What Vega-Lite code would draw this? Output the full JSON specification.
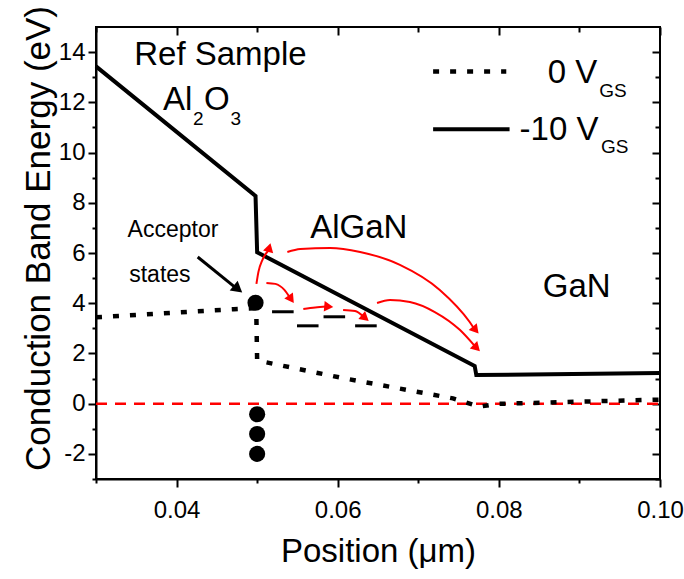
{
  "$schema": "https://vega.github.io/schema/vega-lite/v6.json",
  "width": 564,
  "height": 452,
  "autosize": {"type": "none"},
  "padding": {"left": 96, "top": 27, "right": 24, "bottom": 100},
  "background": "white",
  "config": {
    "view": {"stroke": "black", "strokeWidth": 2},
    "axis": {
      "grid": false,
      "ticks": true,
      "domainColor": "black",
      "domainWidth": 2,
      "tickColor": "black",
      "tickWidth": 2,
      "labelFont": "Liberation Sans",
      "labelFontSize": 24,
      "labelColor": "black",
      "titleFont": "Liberation Sans",
      "titleFontSize": 33,
      "titleFontWeight": "normal",
      "titleColor": "black"
    },
    "text": {"font": "Liberation Sans", "color": "black"}
  },
  "resolve": {"axis": {"x": "independent", "y": "independent"}},
  "layer": [
    {
      "data": {"values": [{"x": 0.03, "y": 0}, {"x": 0.10, "y": 0}]},
      "mark": {"type": "line", "color": "#ff0000", "strokeWidth": 2.5, "strokeDash": [11, 8]},
      "encoding": {
        "x": {"field": "x", "type": "quantitative", "scale": {"domain": [0.03, 0.10], "nice": false, "zero": false},
          "axis": {"orient": "bottom", "values": [0.04, 0.06, 0.08, 0.10], "format": ".2f",
            "tickSize": 8,
            "labelPadding": 11, "title": "Position (μm)", "titlePadding": 13, "labelFlush": false, "labelOverlap": false}},
        "y": {"field": "y", "type": "quantitative", "scale": {"domain": [-3, 15], "nice": false, "zero": false},
          "axis": {"orient": "left", "values": [-2, 0, 2, 4, 6, 8, 10, 12, 14],
            "labelExpr": "'' + datum.value",
            "tickSize": 8,
            "labelPadding": 3, "title": "Conduction Band Energy (eV)", "titleFontSize": 35, "titleY": 211, "titlePadding": 2, "labelFlush": false, "labelOverlap": false}}
      }
    },
    {
      "data": {"values": [
        {"s": "a", "i": 1, "x": 0.030, "y": 3.44},
        {"s": "a", "i": 2, "x": 0.0471, "y": 3.76},
        {"s": "a", "i": 3, "x": 0.0497, "y": 3.80},
        {"s": "a", "i": 4, "x": 0.0499, "y": 3.55},
        {"s": "a", "i": 5, "x": 0.0500, "y": 1.72},
        {"s": "a", "i": 6, "x": 0.0603, "y": 1.04},
        {"s": "a", "i": 7, "x": 0.0743, "y": 0.21},
        {"s": "a", "i": 8, "x": 0.0776, "y": -0.12},
        {"s": "a", "i": 9, "x": 0.0797, "y": -0.01},
        {"s": "a", "i": 10, "x": 0.090, "y": 0.08},
        {"s": "a", "i": 11, "x": 0.100, "y": 0.16},
        {"s": "leg", "i": 1, "x": 0.07184, "y": 13.23},
        {"s": "leg", "i": 2, "x": 0.08092, "y": 13.23}
      ]},
      "mark": {"type": "line", "color": "black", "strokeWidth": 4.5, "strokeDash": [6, 11], "strokeCap": "butt"},
      "encoding": {
        "x": {"field": "x", "type": "quantitative",
          "axis": {"orient": "bottom", "values": [0.03, 0.05, 0.07, 0.09], "labels": false, "domain": false, "title": null, "tickSize": 4}},
        "y": {"field": "y", "type": "quantitative",
          "axis": {"orient": "left", "values": [-3, -1, 1, 3, 5, 7, 9, 11, 13], "labels": false, "domain": false, "title": null, "tickSize": 4}},
        "detail": {"field": "s"},
        "order": {"field": "i", "type": "quantitative"}
      }
    },
    {
      "data": {"values": [
        {"s": "a", "i": 1, "x": 0.030, "y": 13.43},
        {"s": "a", "i": 2, "x": 0.0498, "y": 8.27},
        {"s": "a", "i": 3, "x": 0.0500, "y": 6.03},
        {"s": "a", "i": 4, "x": 0.0770, "y": 1.50},
        {"s": "a", "i": 5, "x": 0.0772, "y": 1.14},
        {"s": "a", "i": 6, "x": 0.100, "y": 1.22},
        {"s": "leg", "i": 1, "x": 0.07184, "y": 10.93},
        {"s": "leg", "i": 2, "x": 0.08133, "y": 10.93}
      ]},
      "mark": {"type": "line", "color": "black", "strokeWidth": 4, "strokeJoin": "miter"},
      "encoding": {
        "x": {"field": "x", "type": "quantitative",
          "axis": {"orient": "top", "values": [0.04, 0.06, 0.08, 0.10], "labels": false, "domain": false, "title": null, "tickSize": 8, "offset": -8}},
        "y": {"field": "y", "type": "quantitative",
          "axis": {"orient": "right", "values": [-2, 0, 2, 4, 6, 8, 10, 12, 14], "labels": false, "domain": false, "title": null, "tickSize": 8, "offset": -8}},
        "detail": {"field": "s"},
        "order": {"field": "i", "type": "quantitative"}
      }
    },
    {
      "data": {"values": [
        {"x": 0.05185, "x2": 0.05453, "y": 3.66},
        {"x": 0.05495, "x2": 0.05762, "y": 3.10},
        {"x": 0.05824, "x2": 0.06092, "y": 3.46},
        {"x": 0.06216, "x2": 0.06484, "y": 3.10}
      ]},
      "mark": {"type": "rule", "color": "black", "strokeWidth": 3},
      "encoding": {
        "x": {"field": "x", "type": "quantitative", "axis": null},
        "x2": {"field": "x2"},
        "y": {"field": "y", "type": "quantitative", "axis": null}
      }
    },
    {
      "data": {"values": [
        {"x": 0.0498, "y": 4.02},
        {"x": 0.0500, "y": -0.42},
        {"x": 0.0500, "y": -1.21},
        {"x": 0.0500, "y": -2.00}
      ]},
      "mark": {"type": "point", "shape": "circle", "filled": true, "color": "black", "opacity": 1, "size": 260},
      "encoding": {
        "x": {"field": "x", "type": "quantitative",
          "axis": {"orient": "top", "values": [0.03, 0.05, 0.07, 0.09], "labels": false, "domain": false, "title": null, "tickSize": 5, "offset": -5}},
        "y": {"field": "y", "type": "quantitative",
          "axis": {"orient": "right", "values": [-3, -1, 1, 3, 5, 7, 9, 11, 13], "labels": false, "domain": false, "title": null, "tickSize": 5, "offset": -5}}
      }
    },
    {
      "data": {"values": [
        {"a": "A", "i": 1, "x": 0.04991, "y": 4.77},
        {"a": "A", "i": 2, "x": 0.05016, "y": 5.25},
        {"a": "A", "i": 3, "x": 0.05066, "y": 5.73},
        {"a": "A", "i": 4, "x": 0.05140, "y": 6.10},
        {"a": "B", "i": 1, "x": 0.05375, "y": 6.04},
        {"a": "B", "i": 2, "x": 0.05536, "y": 6.16},
        {"a": "B", "i": 3, "x": 0.05907, "y": 6.20},
        {"a": "B", "i": 4, "x": 0.06278, "y": 6.04},
        {"a": "B", "i": 5, "x": 0.06772, "y": 5.53},
        {"a": "B", "i": 6, "x": 0.07267, "y": 4.53},
        {"a": "B", "i": 7, "x": 0.07638, "y": 3.25},
        {"a": "B", "i": 8, "x": 0.07690, "y": 3.00},
        {"a": "C", "i": 1, "x": 0.05115, "y": 4.81},
        {"a": "C", "i": 2, "x": 0.05226, "y": 4.77},
        {"a": "C", "i": 3, "x": 0.05338, "y": 4.53},
        {"a": "C", "i": 4, "x": 0.05405, "y": 4.23},
        {"a": "D", "i": 1, "x": 0.05573, "y": 3.77},
        {"a": "D", "i": 2, "x": 0.05721, "y": 3.83},
        {"a": "D", "i": 3, "x": 0.05860, "y": 3.87},
        {"a": "E", "i": 1, "x": 0.06067, "y": 3.73},
        {"a": "E", "i": 2, "x": 0.06215, "y": 3.69},
        {"a": "E", "i": 3, "x": 0.06320, "y": 3.47},
        {"a": "F", "i": 1, "x": 0.06488, "y": 4.01},
        {"a": "F", "i": 2, "x": 0.06649, "y": 4.13},
        {"a": "F", "i": 3, "x": 0.06896, "y": 4.05},
        {"a": "F", "i": 4, "x": 0.07205, "y": 3.65},
        {"a": "F", "i": 5, "x": 0.07515, "y": 2.94},
        {"a": "F", "i": 6, "x": 0.07705, "y": 2.28}
      ]},
      "mark": {"type": "line", "color": "#ff0000", "strokeWidth": 2, "interpolate": "monotone"},
      "encoding": {
        "x": {"field": "x", "type": "quantitative", "axis": null},
        "y": {"field": "y", "type": "quantitative", "axis": null},
        "detail": {"field": "a"},
        "order": {"field": "i", "type": "quantitative"}
      }
    },
    {
      "data": {"values": [
        {"x": 0.05146, "y": 6.16, "angle": 15},
        {"x": 0.07700, "y": 2.98, "angle": 140},
        {"x": 0.05412, "y": 4.21, "angle": 145},
        {"x": 0.05870, "y": 3.87, "angle": 95},
        {"x": 0.06327, "y": 3.45, "angle": 130},
        {"x": 0.07712, "y": 2.26, "angle": 135}
      ]},
      "mark": {"type": "point", "shape": "triangle", "filled": true, "color": "#ff0000", "opacity": 1, "size": 110},
      "encoding": {
        "x": {"field": "x", "type": "quantitative", "axis": null},
        "y": {"field": "y", "type": "quantitative", "axis": null},
        "angle": {"field": "angle", "type": "quantitative", "scale": null}
      }
    },
    {
      "data": {"values": [
        {"i": 1, "x": 0.04262, "y": 5.84},
        {"i": 2, "x": 0.04720, "y": 4.65}
      ]},
      "mark": {"type": "line", "color": "black", "strokeWidth": 3},
      "encoding": {
        "x": {"field": "x", "type": "quantitative", "axis": null},
        "y": {"field": "y", "type": "quantitative", "axis": null},
        "order": {"field": "i", "type": "quantitative"}
      }
    },
    {
      "data": {"values": [{"x": 0.04744, "y": 4.61, "angle": 129}]},
      "mark": {"type": "point", "shape": "triangle", "filled": true, "color": "black", "opacity": 1, "size": 160},
      "encoding": {
        "x": {"field": "x", "type": "quantitative", "axis": null},
        "y": {"field": "y", "type": "quantitative", "axis": null},
        "angle": {"field": "angle", "type": "quantitative", "scale": null}
      }
    },
    {
      "data": {"values": [
        {"t": "Ref Sample", "x": 0.03474, "y": 13.47},
        {"t": "Al", "x": 0.03832, "y": 11.70},
        {"t": "O", "x": 0.04340, "y": 11.70},
        {"t": "AlGaN", "x": 0.05659, "y": 6.59},
        {"t": "GaN", "x": 0.08545, "y": 4.25},
        {"t": "0 V", "x": 0.08607, "y": 12.76},
        {"t": "-10 V", "x": 0.08257, "y": 10.51}
      ]},
      "mark": {"type": "text", "fontSize": 33, "align": "left", "baseline": "alphabetic"},
      "encoding": {
        "x": {"field": "x", "type": "quantitative", "axis": null},
        "y": {"field": "y", "type": "quantitative", "axis": null},
        "text": {"field": "t"}
      }
    },
    {
      "data": {"values": [
        {"t": "2", "x": 0.04203, "y": 11.10},
        {"t": "3", "x": 0.04670, "y": 11.10},
        {"t": "GS", "x": 0.09246, "y": 12.23},
        {"t": "GS", "x": 0.09267, "y": 9.98}
      ]},
      "mark": {"type": "text", "fontSize": 19, "align": "left", "baseline": "alphabetic"},
      "encoding": {
        "x": {"field": "x", "type": "quantitative", "axis": null},
        "y": {"field": "y", "type": "quantitative", "axis": null},
        "text": {"field": "t"}
      }
    },
    {
      "data": {"values": [
        {"t": "Acceptor", "x": 0.03392, "y": 6.64},
        {"t": "states", "x": 0.03412, "y": 4.86}
      ]},
      "mark": {"type": "text", "fontSize": 23, "align": "left", "baseline": "alphabetic"},
      "encoding": {
        "x": {"field": "x", "type": "quantitative", "axis": null},
        "y": {"field": "y", "type": "quantitative", "axis": null},
        "text": {"field": "t"}
      }
    }
  ]
}
